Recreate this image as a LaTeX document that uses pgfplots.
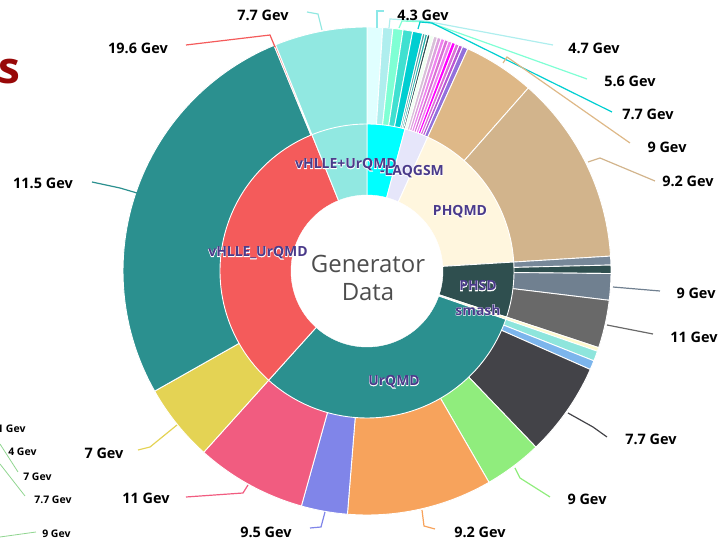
\documentclass[border=0pt]{standalone}
\usepackage{pgfplots}
\pgfplotsset{compat=1.18}
\usepackage{fontspec}
\setmainfont{Open Sans}
\newfontfamily\halofont{Open Sans}[FakeBold=5]

% Highcharts / CSS colours
\definecolor{cLightCyan}{HTML}{E0FFFF}
\definecolor{cPaleTurq}{HTML}{AFEEEE}
\definecolor{cAquamarine}{HTML}{7FFFD4}
\definecolor{cTurq}{HTML}{40E0D0}
\definecolor{cDarkTurq}{HTML}{00CED1}
\definecolor{cCadet}{HTML}{5F9EA0}
\definecolor{cSeaGreen}{HTML}{20B2AA}
\definecolor{cDSlate}{HTML}{2F4F4F}
\definecolor{cHoneydew}{HTML}{F0FFF0}
\definecolor{cThistle}{HTML}{D8BFD8}
\definecolor{cPlum}{HTML}{DDA0DD}
\definecolor{cViolet}{HTML}{EE82EE}
\definecolor{cOrchid}{HTML}{DA70D6}
\definecolor{cMagenta}{HTML}{FF00FF}
\definecolor{cMOrchid}{HTML}{BA55D3}
\definecolor{cMPurple}{HTML}{9370DB}
\definecolor{cBurly}{HTML}{DEB887}
\definecolor{cTan}{HTML}{D2B48C}
\definecolor{cLSlate}{HTML}{778899}
\definecolor{cSlate}{HTML}{708090}
\definecolor{cDim}{HTML}{696969}
\definecolor{cLYellow}{HTML}{FFFACD}
\definecolor{hAqua}{HTML}{8EE5DC}
\definecolor{h1}{HTML}{7CB5EC}
\definecolor{h2}{HTML}{434348}
\definecolor{h3}{HTML}{90ED7D}
\definecolor{h4}{HTML}{F7A35C}
\definecolor{h5}{HTML}{8085E9}
\definecolor{h6}{HTML}{F15C80}
\definecolor{h7}{HTML}{E4D354}
\definecolor{h8}{HTML}{2B908F}
\definecolor{h9}{HTML}{F45B5B}
\definecolor{h10}{HTML}{91E8E1}
\definecolor{cCyan}{HTML}{00FFFF}
\definecolor{cLavender}{HTML}{E6E6FA}
\definecolor{cCream}{HTML}{FFF6DE}
\definecolor{lblpurple}{HTML}{4A3A8A}
\definecolor{ctrgray}{HTML}{4D4D4D}
\definecolor{titlered}{HTML}{980808}

% segment: start angle, end angle (deg, ascending), radius, colour
\newcommand{\seg}[4]{\addplot[fill=#4, draw=white, line width=0.9bp, domain=#1:#2, samples=60, variable=\t, forget plot] ({367+#3*cos(\t)},{273+#3*sin(\t)}) -- (axis cs:367,273) -- cycle;}
\newcommand{\olab}[3]{\node[font=\bfseries\fontsize{14.5}{16}\selectfont, text=black] at (axis cs:#1,#2) {#3};}
\newcommand{\ilab}[3]{%
  \node[font=\halofont\bfseries\fontsize{14}{16}\selectfont, text=white] at (axis cs:#1,#2) {#3};%
  \node[font=\bfseries\fontsize{14}{16}\selectfont, text=lblpurple] at (axis cs:#1,#2) {#3};}

\begin{document}
\begin{tikzpicture}
\useasboundingbox (0,0) rectangle (720bp,544bp);
\begin{axis}[x=1bp, y=1bp, xmin=0, xmax=720, ymin=0, ymax=544,
  axis lines=none, clip=false, at={(0,0)}, anchor=south west]

% ---------- outer ring (energies) ----------
\seg{86.3}{90}{244}{cLightCyan}
\seg{83.9}{86.3}{244}{cPaleTurq}
\seg{81.5}{83.9}{244}{cAquamarine}
\seg{79.2}{81.5}{244}{cTurq}
\seg{76.8}{79.2}{244}{cDarkTurq}
\seg{76.2}{76.8}{244}{cCadet}
\seg{75.6}{76.2}{244}{cSeaGreen}
\seg{75.0}{75.6}{244}{cDSlate}
\seg{74.1}{75.0}{244}{cHoneydew}
\seg{73.2}{74.1}{244}{cThistle}
\seg{72.3}{73.2}{244}{cPlum}
\seg{71.4}{72.3}{244}{cViolet}
\seg{70.5}{71.4}{244}{cOrchid}
\seg{69.6}{70.5}{244}{cViolet}
\seg{68.7}{69.6}{244}{cMagenta}
\seg{67.8}{68.7}{244}{cOrchid}
\seg{66.9}{67.8}{244}{cMOrchid}
\seg{65.6}{66.9}{244}{cMPurple}
\seg{48.6}{65.6}{244}{cBurly}
\seg{3.5}{48.6}{244}{cTan}
\seg{1.4}{3.5}{244}{cLSlate}
\seg{-0.6}{1.4}{244}{cDSlate}
\seg{-6.9}{-0.6}{244}{cSlate}
\seg{-18.3}{-6.9}{244}{cDim}
\seg{-19.2}{-18.3}{244}{cLYellow}
\seg{-21.6}{-19.2}{244}{hAqua}
\seg{-23.8}{-21.6}{244}{h1}
\seg{-46.2}{-23.8}{244}{h2}
\seg{-60}{-46.2}{244}{h3}
\seg{-94.6}{-60}{244}{h4}
\seg{-105.6}{-94.6}{244}{h5}
\seg{-132}{-105.6}{244}{h6}
\seg{209.5}{228}{244}{h7}
\seg{112.4}{209.5}{244}{h8}
\seg{112}{112.4}{244}{h9}
\seg{90}{112}{244}{h10}

% ---------- inner ring (generators) ----------
\seg{75}{90}{147}{cCyan}
\seg{65.6}{75}{147}{cLavender}
\seg{3.5}{65.6}{147}{cCream}
\seg{-18.3}{3.5}{147}{cDSlate}
\seg{-19.2}{-18.3}{147}{cLYellow}
\seg{-132}{-19.2}{147}{h8}
\seg{112}{228}{147}{h9}
\seg{90}{112}{147}{h10}

% hole
\addplot[fill=white, draw=white, domain=0:360, samples=120, variable=\t, forget plot] ({367+76*cos(\t)},{273+76*sin(\t)}) -- cycle;

% ---------- leader lines ----------
\addplot[cPaleTurq!80!cDarkTurq, line width=1.2bp] coordinates {(377,516) (377,533) (384,533)};
\addplot[cPaleTurq, line width=1.2bp] coordinates {(389,516) (390,525) (425,523) (553,499)};
\addplot[cAquamarine, line width=1.2bp] coordinates {(399,516) (402,523) (428,522) (587,465)};
\addplot[cDarkTurq, line width=1.2bp] coordinates {(418,515) (420,522) (432,521) (612,432)};
\addplot[cBurly, line width=1.2bp] coordinates {(503,481) (507,487) (630,401)};
\addplot[cTan, line width=1.2bp] coordinates {(588,382) (600,386) (655,363)};
\addplot[cSlate, line width=1.2bp] coordinates {(613,257) (660,253)};
\addplot[cDim, line width=1.2bp] coordinates {(607,219) (653,210)};
\addplot[h2, line width=1.2bp] coordinates {(568,131) (593,117) (607,107)};
\addplot[h3, line width=1.2bp] coordinates {(515,76) (520,66) (550,47)};
\addplot[h4, line width=1.2bp] coordinates {(422,34) (424,18) (435,15)};
\addplot[h5, line width=1.2bp] coordinates {(325,32) (321,17) (310,16)};
\addplot[h6, line width=1.2bp] coordinates {(248,59) (243,51) (186,47)};
\addplot[h7, line width=1.2bp] coordinates {(177,119) (150,97) (138,94)};
\addplot[h8, line width=1.2bp] coordinates {(137,351) (120,356) (92,362)};
\addplot[h9, line width=1.2bp] coordinates {(275,497) (270,509) (186,499)};
\addplot[h10, line width=1.2bp] coordinates {(322,514) (318,530) (307,532)};

% ---------- outer labels ----------
\olab{423}{529}{4.3 Gev}
\olab{594}{496}{4.7 Gev}
\olab{630}{463}{5.6 Gev}
\olab{648}{430}{7.7 Gev}
\olab{667}{397}{9 Gev}
\olab{688}{363}{9.2 Gev}
\olab{696}{251}{9 Gev}
\olab{694}{207}{11 Gev}
\olab{651}{105}{7.7 Gev}
\olab{587}{45}{9 Gev}
\olab{480}{12}{9.2 Gev}
\olab{266}{12}{9.5 Gev}
\olab{146}{46}{11 Gev}
\olab{104}{91}{7 Gev}
\olab{43}{361}{11.5 Gev}
\olab{138}{496}{19.6 Gev}
\olab{263}{529}{7.7 Gev}

% ---------- inner labels ----------
\ilab{346}{379}{vHLLE+UrQMD}
\ilab{412}{372}{-LAQGSM}
\ilab{460}{332}{PHQMD}
\ilab{478}{258}{PHSD}
\ilab{478}{234}{smash}
\ilab{394}{162}{UrQMD}
\ilab{258}{291}{vHLLE\_UrQMD}

% centre title
\node[align=center, text=ctrgray, font=\fontsize{24}{29}\selectfont] at (axis cs:368,266) {Generator\\Data};

% ---------- cropped neighbours of the screenshot ----------
\node[anchor=east, text=titlered, font=\bfseries\fontsize{44}{44}\selectfont] at (axis cs:24,472) {s};
\addplot[green!45!gray!60, line width=0.8bp] coordinates {(0,100) (18,72)};
\addplot[green!45!gray!60, line width=0.8bp] coordinates {(0,80) (25,48)};
\addplot[green!45!gray!60, line width=0.8bp] coordinates {(0,7) (36,12)};
\node[anchor=east, font=\bfseries\fontsize{10.5}{12}\selectfont] at (axis cs:29,115) {1 Gev};
\node[anchor=east, font=\bfseries\fontsize{10.5}{12}\selectfont] at (axis cs:40,92) {4 Gev};
\node[anchor=east, font=\bfseries\fontsize{10.5}{12}\selectfont] at (axis cs:55,67) {7 Gev};
\node[anchor=east, font=\bfseries\fontsize{10.5}{12}\selectfont] at (axis cs:75,44) {7.7 Gev};
\node[anchor=east, font=\bfseries\fontsize{10.5}{12}\selectfont] at (axis cs:74,10) {9 Gev};
\end{axis}
\end{tikzpicture}
\end{document}
